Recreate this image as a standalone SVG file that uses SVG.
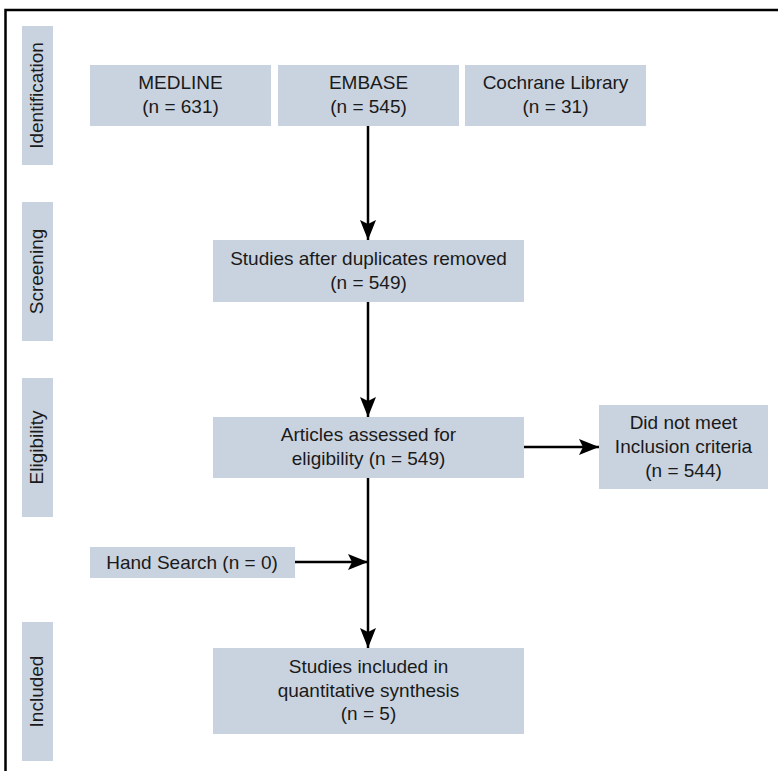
<svg xmlns="http://www.w3.org/2000/svg" width="778" height="771" viewBox="0 0 778 771">
<style>
.box{fill:#c9d3df}
.t{font-family:"Liberation Sans",Arial,sans-serif;font-size:19px;fill:#1a1a1a;text-anchor:middle}
.ln{stroke:#000;stroke-width:2.5;fill:none}
</style>
<defs>
<marker id="ah" markerUnits="userSpaceOnUse" markerWidth="22" markerHeight="18" refX="20" refY="8" orient="auto">
<path d="M0,0 L20,8 L0,16 L4,8 Z" fill="#000"/>
</marker>
</defs>
<rect width="778" height="771" fill="#fff"/>
<path d="M5.5,771 V10 H778" fill="none" stroke="#000" stroke-width="2.5"/>

<g id="lbl-identification"><rect class="box" x="22" y="26" width="31" height="139"/><text class="t" transform="translate(43,95.5) rotate(-90)">Identification</text></g>
<g id="lbl-screening"><rect class="box" x="22" y="202" width="31" height="139"/><text class="t" transform="translate(43,271.5) rotate(-90)">Screening</text></g>
<g id="lbl-eligibility"><rect class="box" x="22" y="378" width="31" height="139"/><text class="t" transform="translate(43,447.5) rotate(-90)">Eligibility</text></g>
<g id="lbl-included"><rect class="box" x="22" y="622" width="31" height="139"/><text class="t" transform="translate(43,691.5) rotate(-90)">Included</text></g>

<g id="medline"><rect class="box" x="90" y="65" width="181" height="61"/><text class="t" x="180.5" y="89">MEDLINE</text><text class="t" x="180.5" y="113">(n = 631)</text></g>
<g id="embase"><rect class="box" x="278" y="65" width="181" height="61"/><text class="t" x="368.5" y="89">EMBASE</text><text class="t" x="368.5" y="113">(n = 545)</text></g>
<g id="cochrane"><rect class="box" x="465" y="65" width="181" height="61"/><text class="t" x="555.5" y="89">Cochrane Library</text><text class="t" x="555.5" y="113">(n = 31)</text></g>
<g id="dedup"><rect class="box" x="213" y="240" width="311" height="62"/><text class="t" x="368.5" y="265">Studies after duplicates removed</text><text class="t" x="368.5" y="289">(n = 549)</text></g>
<g id="assessed"><rect class="box" x="213" y="417" width="311" height="61"/><text class="t" x="368.5" y="441">Articles assessed for</text><text class="t" x="368.5" y="465">eligibility (n = 549)</text></g>
<g id="excluded"><rect class="box" x="599" y="405" width="169" height="84"/><text class="t" x="683.5" y="429">Did not meet</text><text class="t" x="683.5" y="453">Inclusion criteria</text><text class="t" x="683.5" y="477">(n = 544)</text></g>
<g id="hand"><rect class="box" x="90" y="547" width="205" height="31"/><text class="t" x="192" y="569">Hand Search (n = 0)</text></g>
<g id="included"><rect class="box" x="213" y="648" width="311" height="86"/><text class="t" x="368.5" y="673">Studies included in</text><text class="t" x="368.5" y="697">quantitative synthesis</text><text class="t" x="368.5" y="720">(n = 5)</text></g>

<g id="connectors">
<line class="ln" x1="368" y1="126" x2="368" y2="240" marker-end="url(#ah)"/>
<line class="ln" x1="368" y1="302" x2="368" y2="417" marker-end="url(#ah)"/>
<line class="ln" x1="524" y1="447" x2="599" y2="447" marker-end="url(#ah)"/>
<line class="ln" x1="368" y1="478" x2="368" y2="648" marker-end="url(#ah)"/>
<line class="ln" x1="295" y1="562" x2="368" y2="562" marker-end="url(#ah)"/>
</g>
</svg>
